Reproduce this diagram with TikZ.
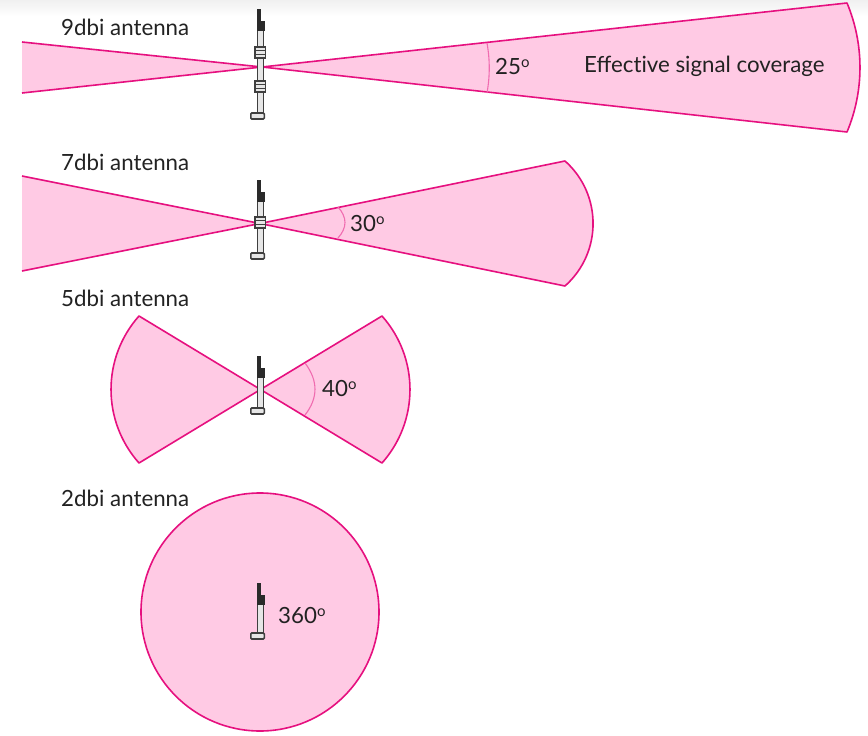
\documentclass[tikz,border=0pt]{standalone}
\usepackage{fontspec}
\setmainfont{Lato}
\definecolor{secfill}{HTML}{FFCAE4}
\definecolor{secline}{HTML}{E6107F}
\definecolor{arcline}{HTML}{F06CB0}
\definecolor{antgrey}{HTML}{E6E6E6}
\definecolor{antdark}{HTML}{2A2A2A}
\definecolor{txt}{HTML}{222222}
\tikzset{
  sector/.style={fill=secfill,draw=secline,line width=1.6pt,line join=round},
  anglearc/.style={draw=arcline,line width=1.1pt},
  lbl/.style={text=txt,font=\fontsize{22.3}{26}\selectfont,inner sep=0pt,anchor=base west},
  antbody/.style={fill=antgrey,draw=antdark!90,line width=1.6pt},
  anttop/.style={fill=antdark,draw=antdark,line width=.6pt},
  antring/.style={draw=antdark!90,line width=1.2pt}
}
\newcommand{\dg}{\raisebox{.56ex}{\fontsize{15}{15}\selectfont o}}
% x, top y, bottom y of the foot
\newcommand{\antbase}[3]{%
  \draw[antbody] (#1+.3,#2+21) rectangle (#1+6.3,#3-5);
  \fill[anttop] (#1,#2) rectangle (#1+3.2,#2+13);
  \fill[anttop] (#1,#2+12) rectangle (#1+6.5,#2+21);
  \draw[antbody,rounded corners=1pt] (#1-6.5,#3-6) rectangle (#1+7,#3);
}
\newcommand{\antcollar}[2]{%
  \draw[antbody] (#1-2.3,#2) rectangle (#1+8.3,#2+11);
  \draw[antring] (#1-2.3,#2+3.7) -- (#1+8.3,#2+3.7) (#1-2.3,#2+7.3) -- (#1+8.3,#2+7.3);
}
\begin{document}
\begin{tikzpicture}[x=1pt,y=-1pt]
\useasboundingbox (0,0) rectangle (868,736);
\fill[white] (0,0) rectangle (868,736);
\shade[top color=black!6,bottom color=white] (0,0) rectangle (868,16);

% 9 dBi
\draw[sector] (22,42) -- (262,67) -- (847,3) .. controls (864.3,44.3) and (864.3,90.7) .. (847,132) -- (262,67) -- (22,93);
\draw[anglearc] (487,43) .. controls (490,60) and (490,76) .. (487,93);
% 7 dBi
\draw[sector] (22,176) -- (260,223.5) -- (565,161) .. controls (602.4,194.3) and (602.4,252.7) .. (565,286) -- (260,223.5) -- (22,271);
\draw[anglearc] (338,207) .. controls (347.3,217.3) and (347.3,227.7) .. (338,238);
% 5 dBi
\draw[sector] (260.5,389.5) -- (382,316) .. controls (419.3,358) and (419.3,421) .. (382,463) -- (139,316) .. controls (101.7,358) and (101.7,421) .. (139,463) -- cycle;
\draw[anglearc] (305,363) .. controls (318.3,380.7) and (318.3,398) .. (305,415);
% 2 dBi
\draw[sector] (260,612) circle[radius=119];

% antennas
\antbase{257.3}{9}{119}
\antcollar{257.3}{47}
\antcollar{257.3}{81}
\antbase{257.3}{180}{259}
\antcollar{257.3}{217}
\antbase{257.3}{356}{414}
\antbase{257.3}{583}{639}

% labels
\node[lbl] (t9) at (61,35) {9dbi antenna};
\node[lbl] (t7) at (61,170) {7dbi antenna};
\node[lbl] (t5) at (61,306) {5dbi antenna};
\node[lbl] (t2) at (61,506) {2dbi antenna};
\node[lbl] (a25) at (495,74) {25\dg};
\node[lbl] (cov) at (584,72.5) {Effect\kern0pt ive signal coverage};
\node[lbl] (a30) at (350,231) {30\dg};
\node[lbl] (a40) at (322,396) {40\dg};
\node[lbl] (a360) at (278,623) {360\dg};
\end{tikzpicture}
\end{document}
